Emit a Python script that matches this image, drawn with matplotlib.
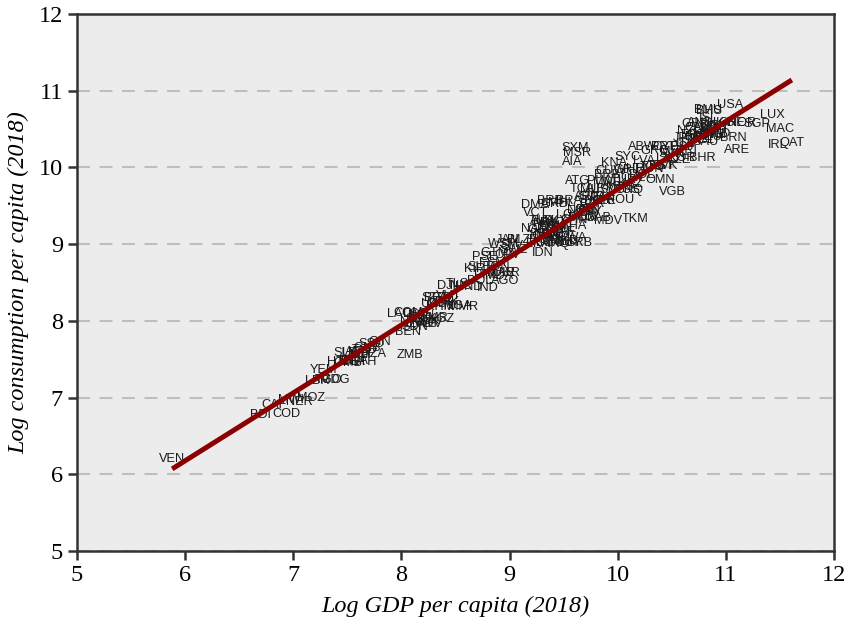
import matplotlib
matplotlib.use("Agg")
import matplotlib.pyplot as plt

codes_low = ["VEN","BDI","COD","CAF","NER","MWI","MOZ","LBR","MDG","TGO","YEM","HTI","GMB","SLE","UGA","RWA","BFA","ETH","MLI","TZA","GIN","TCD","AFG","GNB","SSD","ZMB"]
gdp_low = [5.88,6.70,6.94,6.82,7.06,6.98,7.16,7.22,7.38,7.33,7.28,7.41,7.50,7.48,7.58,7.56,7.55,7.65,7.62,7.75,7.80,7.66,7.60,7.68,7.72,8.08]
con_low = [6.20,6.77,6.79,6.90,6.94,6.97,7.00,7.22,7.23,7.23,7.36,7.47,7.45,7.58,7.58,7.48,7.46,7.47,7.55,7.57,7.72,7.62,7.60,7.64,7.70,7.55]

codes_mid = ["LAO","COM","LSO","KEN","BEN","SDN","NPL","MRT","CMR","CIV","ZWE","TJK","KGZ","BGD","GHA","PAK","NGA","MMR","STP","KHM","UZB","SEN","VUT","DJI","HND","NIC","TLS","IND","PHL","BOL","MAR","KIR","PSE","SLB","FSM","GTM","TON","AGO","UKR","CPV","MDA","JAM","SLV","WSM","SWZ","BLZ"]
gdp_mid = [7.98,8.06,8.13,8.18,8.06,8.12,8.10,8.22,8.30,8.28,8.20,8.26,8.37,8.34,8.38,8.42,8.52,8.57,8.30,8.36,8.30,8.16,8.44,8.42,8.62,8.55,8.52,8.80,8.78,8.72,8.92,8.68,8.77,8.72,8.84,8.86,8.88,8.96,8.97,8.98,8.90,8.99,9.02,8.94,9.04,9.08]
con_mid = [8.09,8.10,8.09,8.06,7.86,7.92,7.98,7.97,8.04,7.96,7.96,8.00,8.03,8.30,8.25,8.24,8.20,8.18,8.30,8.18,8.22,8.02,8.32,8.46,8.44,8.46,8.48,8.43,8.60,8.52,8.62,8.68,8.83,8.70,8.76,8.89,8.70,8.52,8.62,8.86,8.58,9.05,8.98,9.00,8.93,9.06]

codes_up = ["IDN","LKA","DZA","IRQ","MNG","PER","EGY","LBN","MKD","BIH","GEO","GUY","ECU","COL","PRY","XKX","SRB","BWA","ZAF","THA","DOM","CRI","LCA","VCT","GRD","TUV","NAM","ALB","TUN","JOR","ARM","FJI","DMA","BRB","ATG","TCA","SXM","MSR","AIA","KNA","SYC","CUW","MDV","TKM","BRA","MEX","MUS","URY","PAN","ARG","BGR","MNE","CHN","LBY","BLR","MYS","ROU","RUS","TUR","KAZ","GAB","AZE","IRN","PLW","GRL","SUR","BRB","MHL","NRU","GNQ","CHL","LVA","HRV","POL","HUN","OMN","VGB","BHR","KOR","SVK","EST","LTU","GRC","PRT","CZE","SVN","ABW","CYP","MLT","TTO"]
gdp_up = [9.31,9.26,9.36,9.46,9.42,9.38,9.30,9.34,9.50,9.46,9.30,9.54,9.40,9.50,9.34,9.42,9.65,9.58,9.50,9.60,9.68,9.70,9.54,9.24,9.42,9.30,9.24,9.30,9.34,9.28,9.40,9.36,9.24,9.37,9.63,9.67,9.61,9.62,9.58,9.97,10.09,9.93,9.91,10.16,9.55,9.68,9.78,9.84,9.86,9.72,9.82,9.90,9.60,9.74,9.76,10.02,10.02,10.08,10.06,10.12,9.82,9.88,9.74,9.84,10.08,9.76,9.90,9.48,9.66,10.10,10.14,10.24,10.20,10.22,10.30,10.39,10.51,10.78,10.59,10.44,10.40,10.46,10.34,10.42,10.56,10.50,10.23,10.44,10.50,10.32]
con_up = [8.88,9.00,9.02,9.00,9.03,9.08,9.05,9.12,9.04,9.15,9.18,9.02,9.24,9.20,9.26,9.30,9.01,9.08,9.16,9.24,9.34,9.44,9.38,9.41,9.52,9.30,9.20,9.30,9.12,9.10,9.22,9.28,9.51,9.56,9.82,9.72,10.25,10.19,10.07,10.06,10.14,9.95,9.30,9.33,9.56,9.36,9.70,9.72,9.60,9.62,9.56,9.80,9.32,9.42,9.52,9.74,9.58,9.70,9.84,9.78,9.34,9.56,9.44,9.82,9.96,9.62,9.90,9.54,9.44,9.70,9.86,10.08,9.98,9.90,9.98,9.84,9.68,10.12,10.12,10.02,10.02,10.10,10.22,10.26,10.10,10.18,10.27,10.26,10.20,10.00]

codes_top = ["ARE","BRN","IRL","QAT","MAC","LUX","SGP","NOR","CHE","USA","BMU","BHS","ISL","KWT","SAU","NLD","DEU","AUT","AUS","DNK","SWE","CAN","BEL","FRA","GBR","FIN","ISR","JPN","NZL","ITA","ESP","HKG","CYM","PRI","AND"]
gdp_top = [11.10,11.07,11.48,11.61,11.50,11.43,11.29,11.15,11.05,11.04,10.84,10.84,10.84,10.90,10.81,10.92,10.84,10.88,10.82,10.88,10.85,10.74,10.78,10.70,10.72,10.72,10.68,10.62,10.66,10.62,10.60,10.95,10.88,10.64,10.76]
con_top = [10.23,10.39,10.29,10.32,10.50,10.68,10.57,10.58,10.58,10.81,10.75,10.73,10.65,10.50,10.33,10.44,10.40,10.46,10.52,10.54,10.42,10.52,10.36,10.42,10.56,10.40,10.34,10.38,10.48,10.30,10.26,10.58,10.42,10.22,10.58]

fit_x = [5.88, 11.61]
fit_y = [6.07, 11.14]

x_ticks = [5, 6, 7, 8, 9, 10, 11, 12]
y_ticks = [5, 6, 7, 8, 9, 10, 11, 12]

codes = codes_low + codes_mid + codes_up + codes_top
gdp = gdp_low + gdp_mid + gdp_up + gdp_top
con = con_low + con_mid + con_up + con_top

W, H = 851, 618
fig = plt.figure(figsize=(W / 100, H / 100), dpi=100)
ax = fig.add_axes([77 / W, 1 - 551 / H, (834 - 77) / W, (551 - 14) / H])
ax.set_facecolor("#ECECEC")
ax.set_xlim(5, 12)
ax.set_ylim(5, 12)
ax.yaxis.grid(True, color="#BEBEBE", linewidth=1.5, linestyle=(0, (6.2, 4.6)))
ax.xaxis.grid(False)
ax.set_axisbelow(True)

for c, x, y in zip(codes, gdp, con):
    ax.text(x, y, c, family="Liberation Sans", fontsize=9.2, color="#1a1a1a",
            ha="center", va="center", zorder=3)
ax.plot(fit_x, fit_y, color="#8B0000", linewidth=3.6, solid_capstyle="butt", zorder=4)

for s in ax.spines.values():
    s.set_linewidth(1.8)
    s.set_color("#333333")
ax.set_xticks(x_ticks)
ax.set_yticks(y_ticks)
ax.tick_params(length=6.5, width=1.8, color="#333333", labelsize=17.5, pad=3.5, labelcolor="black")
for t in ax.get_xticklabels() + ax.get_yticklabels():
    t.set_family("Liberation Serif")
ax.set_xlabel("Log GDP per capita (2018)", family="Liberation Serif", style="italic", fontsize=17.4, labelpad=7)
ax.set_ylabel("Log consumption per capita (2018)", family="Liberation Serif", style="italic", fontsize=17.4, labelpad=7)
fig.savefig("out.png", dpi=100)
